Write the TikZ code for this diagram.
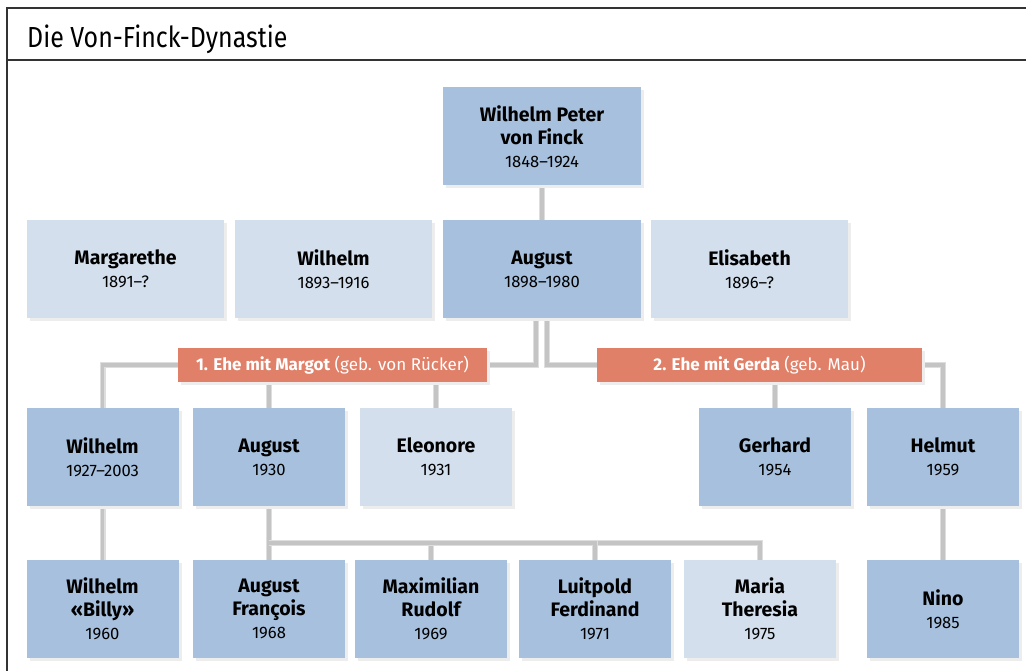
\documentclass[tikz,border=0pt]{standalone}
\usepackage{fontspec}
\setmainfont{Fira Sans}
\newfontfamily\titlefont{Fira Sans}[FakeStretch=0.86]
\usetikzlibrary{shadows,backgrounds}
\definecolor{darkbox}{HTML}{A6C0DD}
\definecolor{lightbox}{HTML}{D3DFED}
\definecolor{barcol}{HTML}{E08068}
\definecolor{conn}{HTML}{C4C4C4}
\definecolor{connedge}{HTML}{DEDEDE}
\definecolor{frame}{HTML}{333333}
\newcommand{\nmf}{\fontsize{19.5}{23}\selectfont\bfseries}
\newcommand{\yrf}{\fontsize{16.6}{23}\selectfont\mdseries}
\tikzset{
  person/.style={rectangle, inner sep=0pt, minimum height=98pt, align=center,
    font=\nmf, text=black,
    drop shadow={shadow xshift=3pt, shadow yshift=-3pt, fill=black!7, opacity=1}},
  dark/.style={person, fill=darkbox},
  light/.style={person, fill=lightbox},
  marriage/.style={rectangle, inner sep=0pt, minimum height=34pt, fill=barcol,
    text=white, font=\fontsize{17}{20}\selectfont,
    drop shadow={shadow xshift=3pt, shadow yshift=-3pt, fill=black!7, opacity=1}},
  link/.style={draw=conn, line width=3.4pt,
    preaction={draw=connedge, line width=6pt}},
  frameline/.style={draw=frame, line width=1.6pt}
}
\begin{document}
\begin{tikzpicture}[x=1pt,y=-1pt]
\useasboundingbox (0,0) rectangle (1026,671);
% frame
\draw[frameline] (7,671) -- (7,8) -- (1026,8);
\draw[frameline] (7,60) -- (1026,60);
\node[anchor=base west, font=\titlefont\fontsize{29}{32}\selectfont, inner sep=0pt] (title) at (27,48) {Die Von-Finck-Dynastie};
% row 0
\node[dark, minimum width=198pt] (wp) at (542,136.5) {Wilhelm Peter\\von Finck\\{\yrf 1848–1924}};
% row 1
\node[light, minimum width=197pt] (marg) at (125.5,269) {Margarethe\\{\yrf 1891–?}};
\node[light, minimum width=197pt] (wil1) at (333.5,269) {Wilhelm\\{\yrf 1893–1916}};
\node[dark, minimum width=198pt] (aug1) at (542,269) {August\\{\yrf 1898–1980}};
\node[light, minimum width=197pt] (elis) at (749.5,269) {Elisabeth\\{\yrf 1896–?}};
% marriage bars
\node[marriage, minimum width=309pt] (ehe1) at (332.5,365) {\textbf{1. Ehe mit Margot} (geb. von Rücker)};
\node[marriage, minimum width=325pt] (ehe2) at (759.5,365) {\textbf{2. Ehe mit Gerda} (geb. Mau)};
% row 2
\node[dark, minimum width=152pt] (wil2) at (102.5,457) {Wilhelm\\{\yrf 1927–2003}};
\node[dark, minimum width=152pt] (aug2) at (269,457) {August\\{\yrf 1930}};
\node[light, minimum width=152pt] (eleo) at (436,457) {Eleonore\\{\yrf 1931}};
\node[dark, minimum width=152pt] (gerh) at (775,457) {Gerhard\\{\yrf 1954}};
\node[dark, minimum width=152pt] (helm) at (943,457) {Helmut\\{\yrf 1959}};
% row 3
\node[dark, minimum width=152pt] (billy) at (102.5,609) {Wilhelm\\«Billy»\\{\yrf 1960}};
\node[dark, minimum width=152pt] (augf) at (269,609) {August\\François\\{\yrf 1968}};
\node[dark, minimum width=152pt] (maxr) at (431,609) {Maximilian\\Rudolf\\{\yrf 1969}};
\node[dark, minimum width=152pt] (luit) at (595,609) {Luitpold\\Ferdinand\\{\yrf 1971}};
\node[light, minimum width=152pt] (mari) at (760,609) {Maria\\Theresia\\{\yrf 1975}};
\node[dark, minimum width=152pt] (nino) at (943,609) {Nino\\{\yrf 1985}};
\coordinate (hub) at (269,543);
% connectors
\begin{scope}[on background layer]
\draw[link] (wp.south) -- (aug1.north);
\draw[link] ([xshift=-6pt]aug1.south) |- (ehe1.east);
\draw[link] ([xshift=5pt]aug1.south) |- (ehe2.west);
\draw[link] (ehe1.west) -| (wil2.north);
\draw[link] (aug2.north |- ehe1.south) -- (aug2.north);
\draw[link] (eleo.north |- ehe1.south) -- (eleo.north);
\draw[link] (gerh.north |- ehe2.south) -- (gerh.north);
\draw[link] (ehe2.east) -| (helm.north);
\draw[link] (wil2.south) -- (billy.north);
\draw[link] (helm.south) -- (nino.north);
\draw[link] (aug2.south) -- (hub) -| (mari.north);
\draw[link] (hub) -- (augf.north);
\draw[link] (hub) -| (maxr.north);
\draw[link] (hub) -| (luit.north);
\end{scope}
\end{tikzpicture}
\end{document}
